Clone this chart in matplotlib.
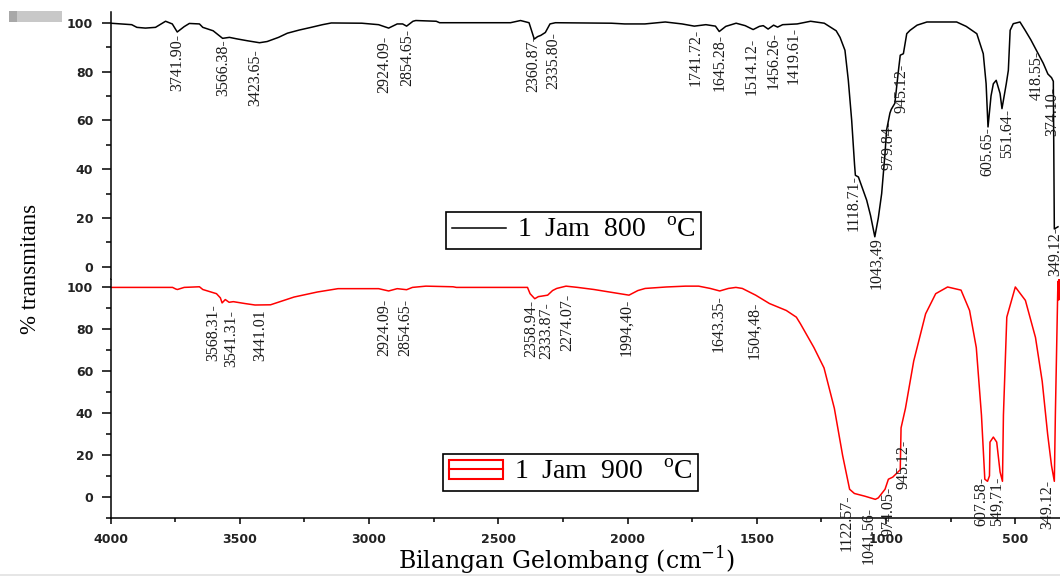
import matplotlib
matplotlib.use("Agg")
import matplotlib.pyplot as plt
from matplotlib.lines import Line2D
from matplotlib.patches import Rectangle
from matplotlib.legend_handler import HandlerTuple
from matplotlib.ticker import MultipleLocator

# FTIR spectra (wavenumber cm-1, % transmittance)
wn_800 = [4000, 3918, 3898, 3865, 3826, 3787, 3761, 3741.90, 3715, 3695, 3656, 3643,
          3603, 3566.38, 3540, 3512, 3470, 3423.65, 3394, 3350, 3316, 3270, 3224, 3180,
          3146, 3028, 2963, 2924.09, 2891, 2870, 2854.65, 2830, 2819, 2740, 2727, 2453,
          2414, 2381, 2360.87, 2348, 2335.80, 2318, 2300, 2279, 2063, 2011, 1933, 1854,
          1789, 1741.72, 1697, 1660, 1645.28, 1620, 1580, 1545, 1514.12, 1490, 1475,
          1456.26, 1435, 1419.61, 1400, 1344, 1292, 1239, 1193, 1178, 1159, 1146, 1133,
          1122, 1118.71, 1107, 1075, 1060, 1043.49, 1030, 1017, 1004, 998, 985, 979.84,
          966, 952, 945.12, 933, 920, 907, 880, 842, 727, 690, 649, 624, 613, 605.65,
          594, 585, 574, 559, 551.64, 535, 527, 520, 508, 482, 462, 440, 418.55, 392,
          374.10, 360, 353, 349.12, 335]
t_800 = [99.8, 99.2, 98.1, 97.8, 98.1, 100.6, 99.5, 96.2, 98.4, 99.7, 99.5, 98.1,
         96.7, 93.6, 94.0, 93.4, 92.6, 91.8, 92.3, 94.0, 95.7, 97.0, 98.1, 99.2,
         99.9, 99.8, 99.2, 97.8, 99.5, 99.5, 98.6, 100.6, 100.9, 100.6, 100.0, 100.0,
         100.9, 100.0, 93.3, 94.3, 94.8, 96.0, 99.5, 100.0, 99.8, 99.5, 99.5, 100.3,
         99.5, 98.6, 99.2, 98.6, 96.4, 98.5, 99.8, 98.8, 97.2, 98.5, 98.8,
         97.4, 99.0, 98.2, 99.2, 99.5, 100.6, 99.8, 96.7, 94.0, 88.7, 76.4, 60.0,
         42.0, 37.5, 36.8, 27.3, 21.0, 12.3, 20.0, 30.0, 46.5, 56.0, 63.0, 64.5,
         67.0, 80.5, 86.7, 87.3, 95.5, 96.9, 99.0, 100.3, 100.3, 98.5, 95.5, 87.3, 75.0, 57.3,
         70.0, 75.0, 76.4, 71.0, 64.8, 75.0, 80.5, 96.9, 99.6, 100.3, 96.9, 93.0, 88.7, 83.4,
         79.0, 77.5, 76.0, 15.5, 16.4]

wn_900 = [4000, 3760, 3747, 3741, 3715, 3656, 3643, 3590, 3575, 3568.31, 3556, 3541.31,
          3525, 3480, 3441.01, 3381, 3290, 3200, 3120, 2963, 2924.09, 2891, 2854.65, 2832,
          2780, 2675, 2662, 2387, 2377, 2358.94, 2345, 2333.87, 2309, 2290, 2274.07, 2238,
          2193, 2130, 2075, 1994.40, 1960, 1932, 1850, 1776, 1725, 1680, 1643.35, 1610,
          1581, 1556, 1504.48, 1451, 1386, 1347, 1331, 1279, 1240, 1200, 1168, 1141,
          1122.57, 1082, 1041.56, 1030, 1004, 991, 974.05, 945.12, 942, 925, 893, 847,
          808, 762, 710, 677, 651, 631, 618, 607.58, 600, 598, 585, 572, 559, 549.71,
          546, 533, 500, 461, 422, 396, 375, 360, 349.12, 345, 338, 336, 334, 332, 330,
          328, 326, 324, 322]
t_900 = [100.0, 100.0, 99.2, 99.0, 100.0, 100.3, 99.0, 97.0, 95.0, 92.6, 94.2, 92.9,
         93.2, 92.3, 91.6, 91.7, 95.4, 97.8, 99.4, 99.4, 98.3, 99.4, 98.9, 100.0,
         100.6, 100.3, 100.0, 100.0, 97.0, 94.6, 95.6, 95.8, 96.3, 98.5, 99.5, 100.6,
         100.0, 99.0, 97.9, 96.3, 98.5, 99.5, 100.2, 100.6, 100.6, 99.5, 98.3, 99.5,
         100.0, 99.5, 96.3, 92.3, 89.0, 85.8, 82.6, 71.3, 61.6, 42.3, 19.8, 3.7,
         1.7, 0.4, -1.1, -0.4, 3.7, 8.5, 9.5, 13.0, 33.0, 42.3, 64.9, 87.4,
         97.0, 100.2, 98.7, 89.0, 71.3, 39.1, 8.5, 7.5, 10.1, 26.2, 28.6, 26.2, 12.0, 7.5,
         39.1, 85.8, 100.2, 93.8, 76.1, 55.2, 30.0, 15.0, 7.5, 40.0, 85.0, 98.0, 103.0,
         94.0, 104.0, 95.0, 103.0, 96.0, 102.0]

# peak labels, as printed next to each band
labels_800 = ["3741.90-", "3566.38-", "3423.65-", "2924.09-", "2854.65-", "2360.87-",
              "2335.80-", "1741.72-", "1645.28-", "1514.12-", "1456.26-", "1419.61-",
              "1118.71-", "1043,49", "979.84-", "945.12-", "605.65-", "551.64-",
              "418.55-", "374.10-", "349.12-"]
labels_900 = ["3568.31-", "3541.31-", "3441.01", "2924.09-", "2854.65-", "2358.94-",
              "2333.87-", "2274.07-", "1994,40-", "1643.35-", "1504,48-", "1122.57-",
              "1041.56-", "974.05-", "945.12-", "607.58-", "549,71-", "349.12-"]

legend_800 = "1  Jam  800   $^{\\mathregular{o}}$C"
legend_900 = "1  Jam  900   $^{\\mathregular{o}}$C"

# where each label text sits (x in cm-1, top of text in %T)
label_pos_800 = [(3741, 95.3), (3565, 93.3), (3441, 89.1), (2943, 94.6), (2851, 97.4),
                 (2366, 95.0), (2286, 96.0), (1736, 97.4), (1645, 95.3), (1521, 93.9),
                 (1436, 96.0), (1357, 98.1), (1127, 37.5), (1036, 12.3), (991, 60.0),
                 (939, 83.2), (610, 57.3), (533, 64.8), (417, 88.7), (359, 73.7),
                 (345, 16.4)]
label_pos_900 = [(3603, 92.2), (3532, 89.3), (3421, 89.8), (2943, 94.6), (2858, 94.6),
                 (2374, 93.9), (2316, 93.1), (2232, 97.1), (2004, 94.7), (1647, 96.3),
                 (1510, 93.1), (1152, 1.1), (1069, -4.5), (991, 5.0), (933, 27.3),
                 (630, 9.8), (572, 9.8), (378, 8.2)]

plt.rcParams["font.family"] = "DejaVu Sans"
plt.rcParams["mathtext.fontset"] = "custom"
plt.rcParams["mathtext.rm"] = "Liberation Serif"

fig = plt.figure(figsize=(10.6, 5.76), dpi=100)
ax_bot = fig.add_axes([0.10425, 0.1007, 0.8975, 0.4149])
ax_top = fig.add_axes([0.10425, 0.5156, 0.8975, 0.4636], sharex=ax_bot)

ax_top.plot(wn_800, t_800, color="black", lw=1.1)
ax_bot.plot(wn_900, t_900, color="red", lw=1.1)

ax_bot.set_xlim(4000, 320)
ax_top.set_ylim(-5, 104.4)
ax_bot.set_ylim(-10, 104)

for ax in (ax_top, ax_bot):
    ax.spines["top"].set_visible(False)
    ax.spines["right"].set_visible(False)
    for s in ax.spines.values():
        s.set_linewidth(1.1)
    ax.set_yticks([0, 20, 40, 60, 80, 100])
    ax.yaxis.set_minor_locator(MultipleLocator(10))
    ax.tick_params(axis="y", which="major", direction="out", length=6.5, width=1.1,
                   pad=6, labelsize=9, labelcolor="#222222")
    ax.tick_params(axis="y", which="minor", direction="out", length=3.5, width=1.1)

ax_top.spines["bottom"].set_visible(False)
ax_top.tick_params(axis="x", which="both", bottom=False, labelbottom=False)

ax_bot.set_xticks(list(range(4000, 499, -500)))
ax_bot.xaxis.set_minor_locator(MultipleLocator(250))
ax_bot.tick_params(axis="x", which="major", direction="out", length=4, width=1.1,
                   pad=7, labelsize=9, labelcolor="#222222")
ax_bot.tick_params(axis="x", which="minor", direction="out", length=3, width=1.1)

for ax in (ax_top, ax_bot):
    for lab in ax.get_xticklabels() + ax.get_yticklabels():
        lab.set_fontweight("bold")

# peak annotations
for ax, labels, positions in ((ax_top, labels_800, label_pos_800),
                              (ax_bot, labels_900, label_pos_900)):
    for text, (lx, ly) in zip(labels, positions):
        ax.text(lx, ly, text, rotation=90, ha="center", va="top", fontsize=11.5,
                family="Liberation Serif", color="#1a1a1a", clip_on=False)

# legends
leg_kw = dict(loc="lower left", borderaxespad=0, frameon=True, fancybox=False,
              edgecolor="black", framealpha=1, borderpad=0.2, handlelength=1.95,
              handletextpad=0.4, prop={"family": "Liberation Serif", "size": 20})
leg1 = ax_top.legend([Line2D([], [], color="black", lw=1.1)], [legend_800],
                     bbox_to_anchor=(0.3527, 0.1124), **leg_kw)
leg1.get_frame().set_linewidth(1.2)

red_box = Rectangle((0, 0), 1, 1, facecolor="none", edgecolor="red", lw=1.5)
red_line = Line2D([], [], color="red", lw=1.5)
leg2 = ax_bot.legend([(red_box, red_line)], [legend_900],
                     handler_map={tuple: HandlerTuple(ndivide=1, pad=0)},
                     bbox_to_anchor=(0.3495, 0.114), **leg_kw)
leg2.get_frame().set_linewidth(1.2)

ax_bot.set_xlabel("Bilangan Gelombang (cm$^{\\mathregular{-1}}$)", family="DejaVu Serif",
                  fontsize=17)
ax_bot.xaxis.set_label_coords(0.4798, -0.112)
fig.text(30 / 1060, 1 - 269 / 576, "% transmitans", rotation=90, ha="center",
         va="center", family="Liberation Serif", fontsize=16.5)

# grey strip in the upper corner and along the bottom edge
fig.add_artist(Rectangle((9 / 1060, 1 - 22 / 576), 53 / 1060, 11 / 576,
                         transform=fig.transFigure, facecolor="#c8c8c8", edgecolor="none"))
fig.add_artist(Rectangle((9 / 1060, 1 - 22 / 576), 8 / 1060, 11 / 576,
                         transform=fig.transFigure, facecolor="#a8a8a8", edgecolor="none"))
fig.add_artist(Rectangle((0, 0), 1, 2.5 / 576, transform=fig.transFigure,
                         facecolor="#e6e6e6", edgecolor="none"))

fig.savefig("out.png", dpi=100)
